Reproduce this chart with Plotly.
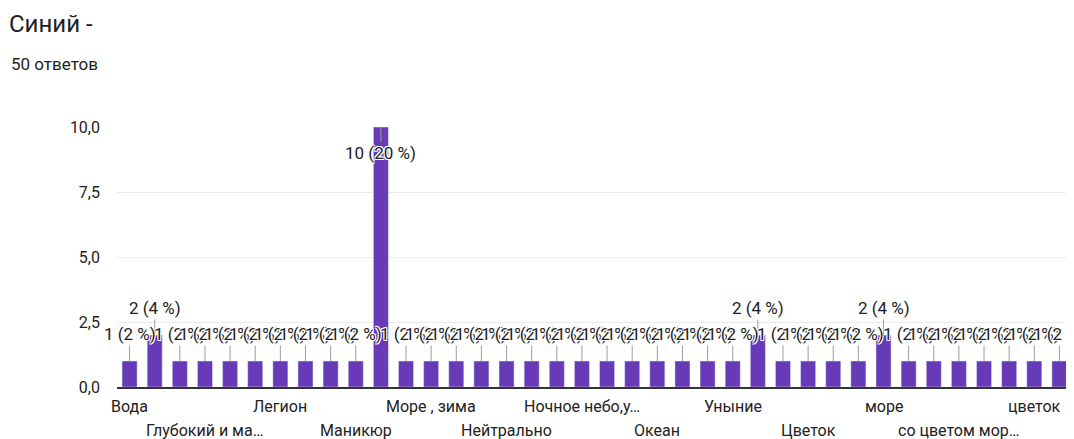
import plotly.graph_objects as go

# Answers to "Синий -" (Google Forms summary)
title_text = "Синий -"
subtitle_text = "50 ответов"

categories = [
    "Вода", "Волны", "Глубина", "Глубокий и манящий", "Грусть", "Джинсы",
    "Легион", "Лёд", "Мальдивы", "Маникюр", "Море", "Море , вода",
    "Море , зима", "Надежда", "Небо", "Нейтрально", "Ночь", "Ночное море",
    "Ночное небо,уют", "Обычный", "Озеро", "Океан", "Спокойствие", "Тоска",
    "Уныние", "Холод", "Холодный", "Цветок", "Цвет неба", "Честь",
    "море", "небо", "океан", "со цветом морской волны", "спокойствие",
    "холод", "цветок", "яркий",
]
values = [
    1, 2, 1, 1, 1, 1, 1, 1, 1, 1, 10, 1,
    1, 1, 1, 1, 1, 1, 1, 1, 1, 1, 1, 1,
    1, 2, 1, 1, 1, 1, 2, 1, 1, 1, 1, 1, 1, 1,
]
y_ticks = [0, 2.5, 5, 7.5, 10]

total = sum(values)
bar_color = "#673ab7"
text_color = "#222222"
halo = "1px 1px 0 #fff, -1px -1px 0 #fff, 1px -1px 0 #fff, -1px 1px 0 #fff, 0 1px 0 #fff, 0 -1px 0 #fff"

# the page body keeps its default 8px margin, so the figure is 8px smaller
W, H = 1066, 431


def short(label, limit=14):
    return label if len(label) <= limit else label[:13] + "…"


fig = go.Figure(go.Bar(
    x=categories, y=values, marker_color=bar_color, hoverinfo="x+y",
))

annotations = []
ymax = y_ticks[-1]
for cat, v in zip(categories, values):
    inside = v >= ymax
    annotations.append(dict(
        x=cat, y=v, xref="x", yref="y",
        text=f"{v} ({v * 100 / total:.0f} %)",
        showarrow=True, arrowhead=0, arrowwidth=1, arrowcolor="#9e9e9e",
        ax=0, ay=26 if inside else -27, standoff=0,
        font=dict(size=17, color=text_color, family="Roboto", shadow=halo),
    ))

# every third category label, alternating rows
for k, i in enumerate(range(0, len(categories), 3)):
    annotations.append(dict(
        x=categories[i], y=0, xref="x", yref="paper",
        text=short(categories[i]), showarrow=False,
        yanchor="middle", yshift=-19 if k % 2 == 0 else -43,
        font=dict(size=16, color=text_color, family="Roboto"),
    ))

annotations.append(dict(
    x=0, y=1, xref="paper", yref="paper", xanchor="left", yanchor="middle",
    xshift=-108, yshift=63, text=subtitle_text, showarrow=False,
    font=dict(size=17, color=text_color, family="Roboto"),
))

fig.update_layout(
    width=W, height=H,
    margin=dict(l=109, r=2, t=119, b=52),
    paper_bgcolor="white", plot_bgcolor="white",
    font=dict(family="Roboto", size=16, color=text_color),
    title=dict(text=title_text, xref="container", yref="container",
               x=1 / W, xanchor="left", y=1 - 16 / H, yanchor="middle",
               font=dict(size=24, color="#202124", family="Roboto")),
    bargap=0.4,
    showlegend=False,
    annotations=annotations,
    separators=", ",
)
fig.update_xaxes(range=[-0.5, len(categories) - 0.5],
                 showticklabels=False, showgrid=False, zeroline=False,
                 showline=True, linecolor="#333333", linewidth=2)
fig.update_yaxes(range=[0, ymax], tickvals=y_ticks, tickformat=".1f",
                 showgrid=True, gridcolor="#ebebeb", gridwidth=1,
                 zeroline=False, ticklabelstandoff=16,
                 tickfont=dict(size=16, color=text_color))

fig.write_html("out.html")
